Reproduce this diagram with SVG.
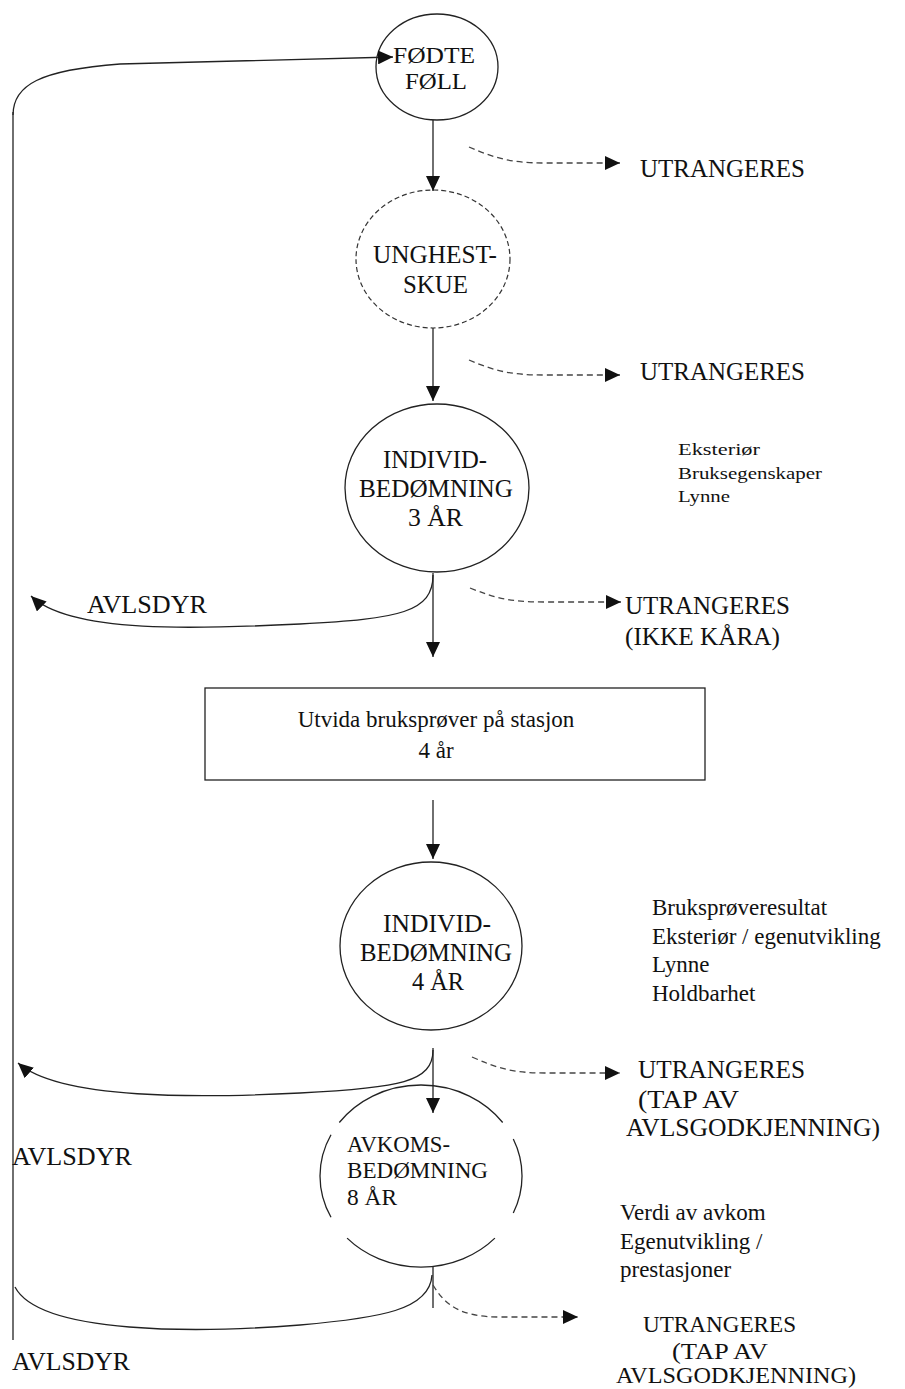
<svg xmlns="http://www.w3.org/2000/svg" width="905" height="1389" viewBox="0 0 905 1389">
<style>
text{font-family:"Liberation Serif","Times New Roman",serif;fill:#111}
.n{font-size:25px}
.m{font-size:24px}
.s{font-size:23px}
.t{font-size:17px}
.ln{fill:none;stroke:#222;stroke-width:1.3}
.ds{fill:none;stroke:#444;stroke-width:1.3;stroke-dasharray:6 4}
.sh{fill:#fff;stroke:#222;stroke-width:1.3}
</style>
<defs>
<marker id="ah" markerWidth="16" markerHeight="14" refX="15" refY="7" orient="auto" markerUnits="userSpaceOnUse">
<path d="M0,0 L15,7 L0,14 z" fill="#111"/>
</marker>
</defs>
<rect width="905" height="1389" fill="#fff"/>

<g id="fodte-foll">
<ellipse class="sh" cx="437" cy="67" rx="61" ry="53"/>
<text class="m" x="393" y="63" textLength="82" lengthAdjust="spacingAndGlyphs">FØDTE</text>
<text class="m" x="405" y="89" textLength="62" lengthAdjust="spacingAndGlyphs">FØLL</text>
</g>

<g id="unghestskue">
<ellipse cx="433" cy="259" rx="77" ry="69" fill="#fff" stroke="#333" stroke-width="1.2" stroke-dasharray="5 3"/>
<text class="n" x="373" y="263" textLength="124" lengthAdjust="spacingAndGlyphs">UNGHEST-</text>
<text class="n" x="403" y="293" textLength="65" lengthAdjust="spacingAndGlyphs">SKUE</text>
</g>

<g id="individ3">
<ellipse class="sh" cx="437" cy="488" rx="92" ry="84"/>
<text class="n" x="383" y="468" textLength="104" lengthAdjust="spacingAndGlyphs">INDIVID-</text>
<text class="n" x="359" y="497" textLength="154" lengthAdjust="spacingAndGlyphs">BEDØMNING</text>
<text class="n" x="408" y="526" textLength="55" lengthAdjust="spacingAndGlyphs">3 ÅR</text>
</g>

<g id="brukstest">
<rect class="sh" x="205" y="688" width="500" height="92"/>
<text class="s" x="436" y="727" text-anchor="middle">Utvida bruksprøver på stasjon</text>
<text class="s" x="436" y="758" text-anchor="middle">4 år</text>
</g>

<g id="individ4">
<ellipse class="sh" cx="431" cy="946" rx="91" ry="84"/>
<text class="n" x="383" y="932" textLength="108" lengthAdjust="spacingAndGlyphs">INDIVID-</text>
<text class="n" x="360" y="961" textLength="152" lengthAdjust="spacingAndGlyphs">BEDØMNING</text>
<text class="n" x="412" y="990" textLength="52" lengthAdjust="spacingAndGlyphs">4 ÅR</text>
</g>

<g id="avkoms">
<path class="ln" d="M339.3,1122.5 A101,91 0 0 1 502.7,1122.5"/>
<path class="ln" d="M513.3,1139 A101,91 0 0 1 513.3,1213"/>
<path class="ln" d="M494.9,1238.1 A101,91 0 0 1 347.1,1238.1"/>
<path class="ln" d="M331,1217.3 A101,91 0 0 1 331,1134.7"/>
<text class="s" x="347" y="1152" textLength="103" lengthAdjust="spacingAndGlyphs">AVKOMS-</text>
<text class="s" x="347" y="1178" textLength="141" lengthAdjust="spacingAndGlyphs">BEDØMNING</text>
<text class="s" x="347" y="1205" textLength="50" lengthAdjust="spacingAndGlyphs">8 ÅR</text>
</g>

<g id="connectors">
<line class="ln" x1="13" y1="112" x2="13" y2="1340"/>
<path class="ln" d="M13,115 C13,85 40,70 120,64 L393,57" marker-end="url(#ah)"/>
<line class="ln" x1="433" y1="120" x2="433" y2="191" marker-end="url(#ah)"/>
<path class="ds" d="M469,147 C495,158 510,163 545,163 L620,163" marker-end="url(#ah)"/>
<line class="ln" x1="433" y1="328" x2="433" y2="401" marker-end="url(#ah)"/>
<path class="ds" d="M469,360 C495,371 510,375 545,375 L620,375" marker-end="url(#ah)"/>
<line class="ln" x1="433" y1="573" x2="433" y2="657" marker-end="url(#ah)"/>
<path class="ln" d="M433,575 C433,612 400,619 300,624 C200,629 70,634 31,596" marker-end="url(#ah)"/>
<path class="ds" d="M470,588 C495,598 510,602 545,602 L621,602" marker-end="url(#ah)"/>
<line class="ln" x1="433" y1="800" x2="433" y2="859" marker-end="url(#ah)"/>
<line class="ln" x1="433" y1="1048" x2="433" y2="1113" marker-end="url(#ah)"/>
<path class="ln" d="M433,1050 C433,1082 400,1088 300,1093 C200,1098 60,1100 18,1063" marker-end="url(#ah)"/>
<path class="ds" d="M472,1057 C497,1068 512,1073 545,1073 L620,1073" marker-end="url(#ah)"/>
<line class="ln" x1="433" y1="1267" x2="433" y2="1308"/>
<path class="ln" d="M432,1275 C430,1310 380,1318 300,1325 C200,1333 40,1335 15,1287"/>
<path class="ds" d="M433,1285 C445,1305 460,1317 500,1317 L578,1317" marker-end="url(#ah)"/>
</g>

<g id="labels">
<text class="n" x="640" y="177" textLength="165" lengthAdjust="spacingAndGlyphs">UTRANGERES</text>
<text class="n" x="640" y="380" textLength="165" lengthAdjust="spacingAndGlyphs">UTRANGERES</text>
<text class="t" x="678" y="455" textLength="82" lengthAdjust="spacingAndGlyphs">Eksteriør</text>
<text class="t" x="678" y="479" textLength="144" lengthAdjust="spacingAndGlyphs">Bruksegenskaper</text>
<text class="t" x="678" y="502" textLength="52" lengthAdjust="spacingAndGlyphs">Lynne</text>
<text class="n" x="87" y="613" textLength="120" lengthAdjust="spacingAndGlyphs">AVLSDYR</text>
<text class="n" x="625" y="614" textLength="165" lengthAdjust="spacingAndGlyphs">UTRANGERES</text>
<text class="n" x="625" y="645" textLength="155" lengthAdjust="spacingAndGlyphs">(IKKE KÅRA)</text>
<text class="s" x="652" y="915">Bruksprøveresultat</text>
<text class="s" x="652" y="944">Eksteriør / egenutvikling</text>
<text class="s" x="652" y="972">Lynne</text>
<text class="s" x="652" y="1001">Holdbarhet</text>
<text class="n" x="638" y="1078" textLength="167" lengthAdjust="spacingAndGlyphs">UTRANGERES</text>
<text class="n" x="638" y="1108" textLength="101" lengthAdjust="spacingAndGlyphs">(TAP AV</text>
<text class="n" x="626" y="1136" textLength="254" lengthAdjust="spacingAndGlyphs">AVLSGODKJENNING)</text>
<text class="n" x="12" y="1165" textLength="120" lengthAdjust="spacingAndGlyphs">AVLSDYR</text>
<text class="s" x="620" y="1220">Verdi av avkom</text>
<text class="s" x="620" y="1249">Egenutvikling /</text>
<text class="s" x="620" y="1277">prestasjoner</text>
<text class="s" x="643" y="1332" textLength="153" lengthAdjust="spacingAndGlyphs">UTRANGERES</text>
<text class="s" x="672" y="1359" textLength="96" lengthAdjust="spacingAndGlyphs">(TAP AV</text>
<text class="s" x="616" y="1383" textLength="240" lengthAdjust="spacingAndGlyphs">AVLSGODKJENNING)</text>
<text class="n" x="12" y="1370" textLength="118" lengthAdjust="spacingAndGlyphs">AVLSDYR</text>
</g>
</svg>
